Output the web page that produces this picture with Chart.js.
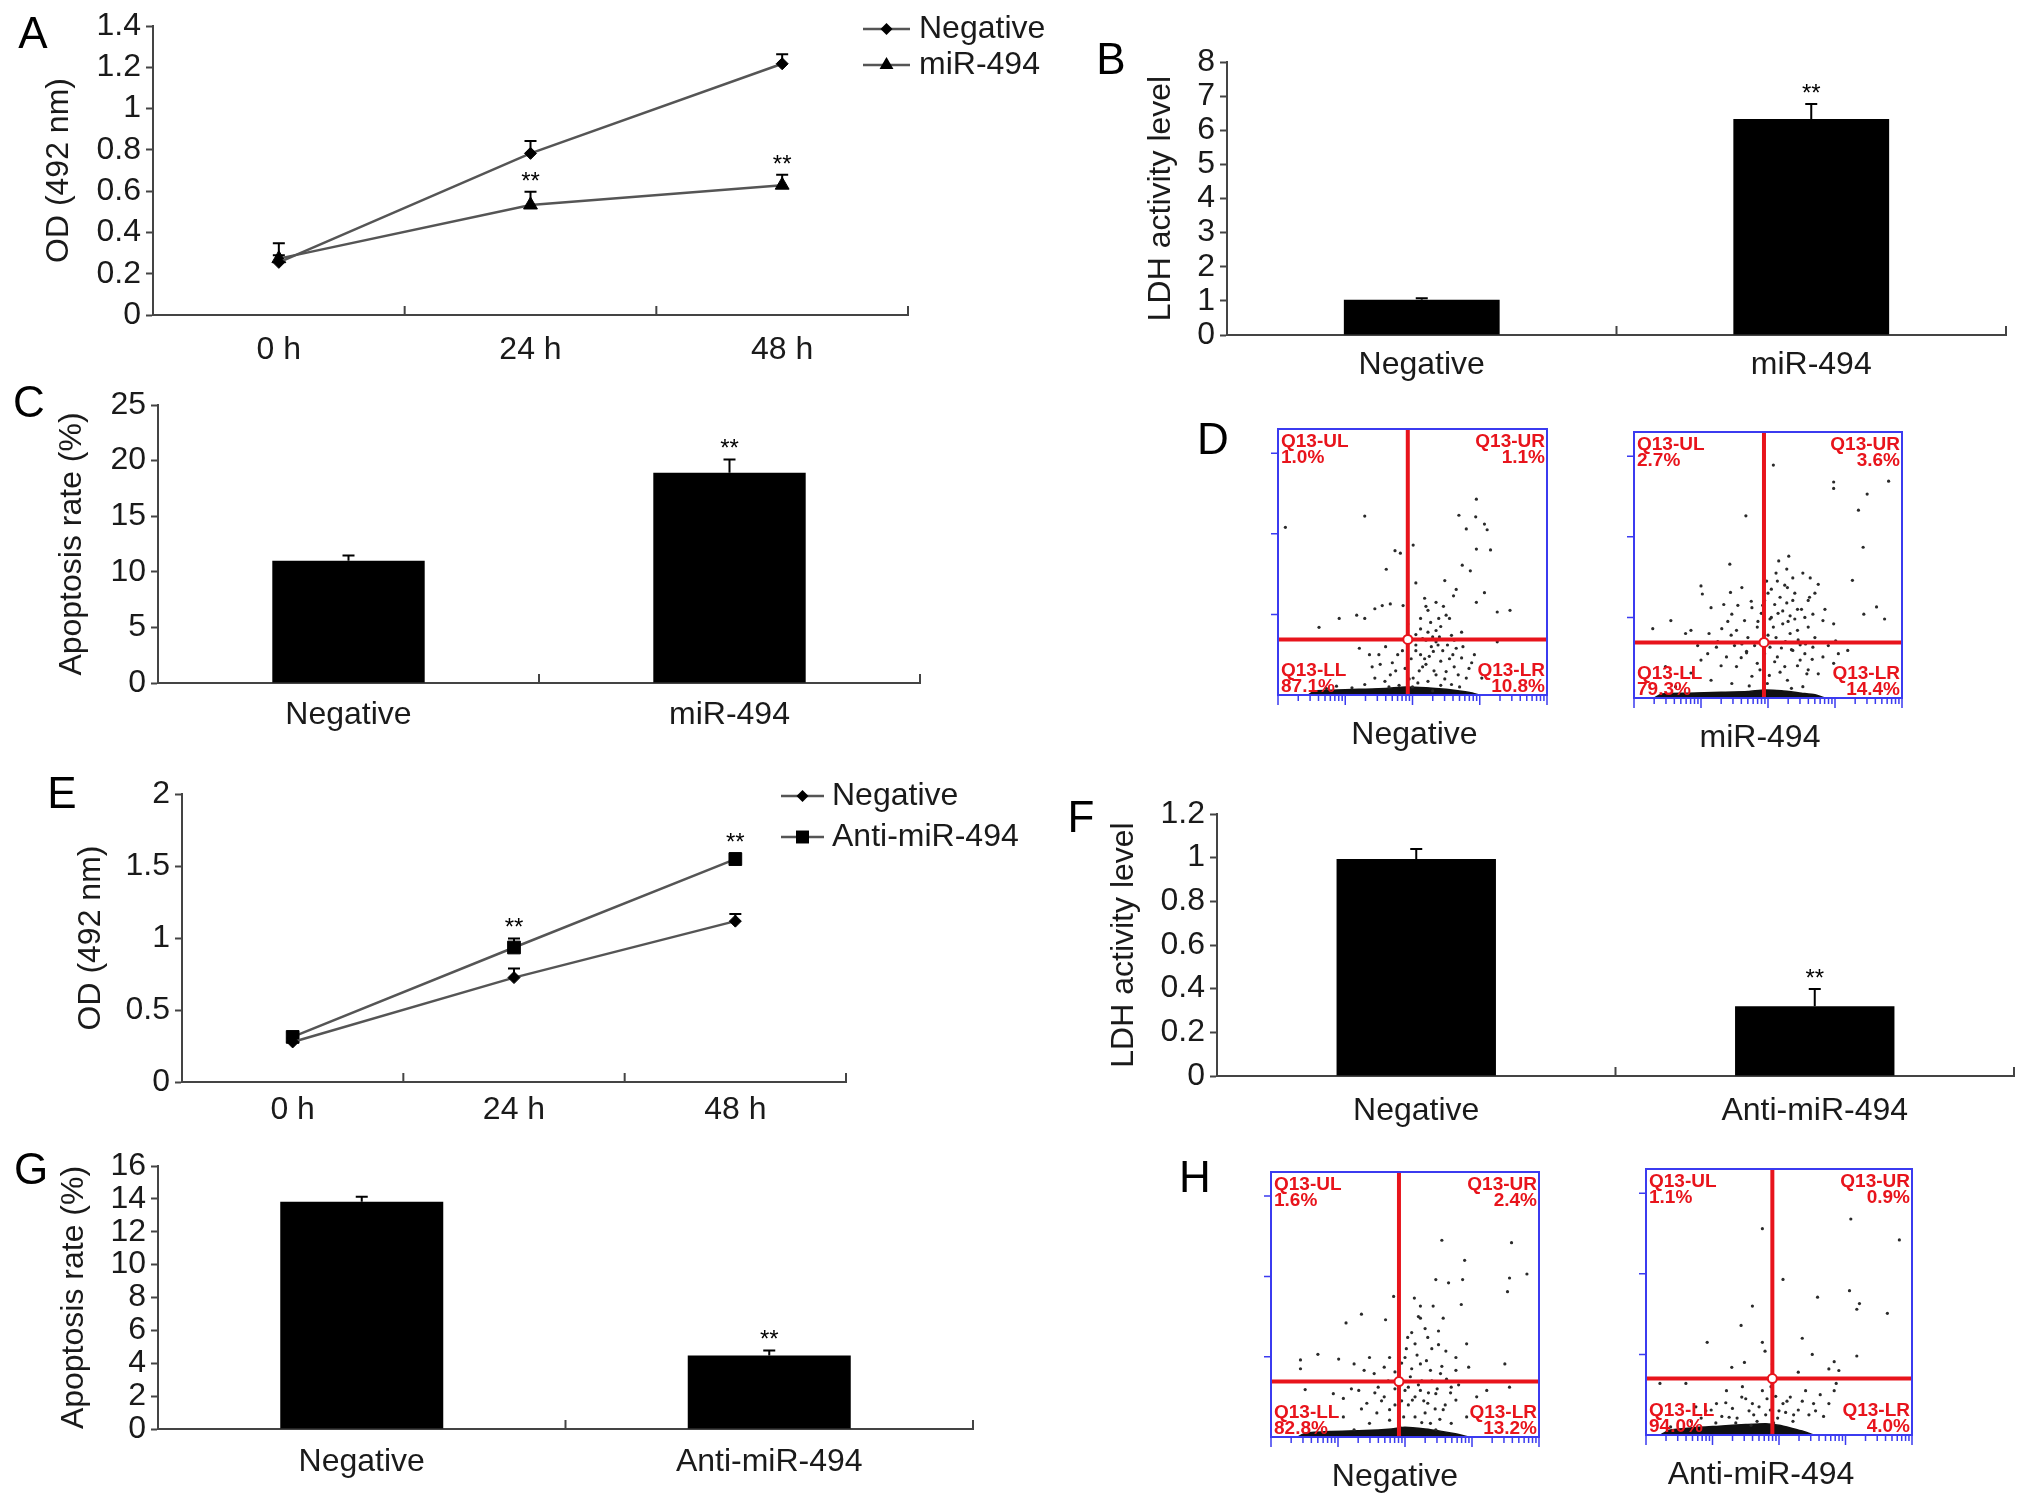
<!DOCTYPE html>
<html>
<head>
<meta charset="utf-8">
<script src="https://cdn.jsdelivr.net/npm/chart.js@4.4.1/dist/chart.umd.min.js"></script>
<style>
  html, body { margin: 0; padding: 0; background: #fff; overflow: hidden; }
  #fig { position: relative; width: 2032px; height: 1507px; background: #fff; }
  #fig canvas { position: absolute; }
</style>
</head>
<body>
<div id="fig"></div>
<script>
// ---- data ----
const timeLabels = ['0 h', '24 h', '48 h'];

// A: proliferation, miR-494 overexpression
const negativeA = [0.255, 0.783, 1.217];
const negativeAErr = [0.034, 0.06, 0.046];
const mirA = [0.273, 0.533, 0.629];
const mirAErr = [0.075, 0.064, 0.05];
const mirAStars = ['', '**', '**'];

// B: LDH, miR-494
const groupsMir = ['Negative', 'miR-494'];
const ldhB = [1.03, 6.33];
const ldhBErr = [0.05, 0.44];
const ldhBStars = ['', '**'];

// C: apoptosis, miR-494
const apopC = [11.0, 18.9];
const apopCErr = [0.47, 1.2];
const apopCStars = ['', '**'];

// E: proliferation, anti-miR-494
const negativeE = [0.278, 0.725, 1.117];
const negativeEErr = [0.025, 0.063, 0.049];
const antiE = [0.313, 0.934, 1.548];
const antiEErr = [0.03, 0.063, 0.04];
const antiEStars = ['', '**', '**'];

// F: LDH, anti-miR-494
const groupsAnti = ['Negative', 'Anti-miR-494'];
const ldhF = [0.994, 0.32];
const ldhFErr = [0.046, 0.078];
const ldhFStars = ['', '**'];

// G: apoptosis, anti-miR-494
const apopG = [13.82, 4.47];
const apopGErr = [0.31, 0.31];
const apopGStars = ['', '**'];

// D / H: flow cytometry dot plots, in log decades (x 0-4, y 0-3.3)
const quadNames = ['Q13-UL', 'Q13-UR', 'Q13-LL', 'Q13-LR'];
const quadD1 = ['1.0%', '1.1%', '87.1%', '10.8%'];
const quadD2 = ['2.7%', '3.6%', '79.3%', '14.4%'];
const quadH1 = ['1.6%', '2.4%', '82.8%', '13.2%'];
const quadH2 = ['1.1%', '0.9%', '94.0%', '4.0%'];
const gateD1 = [1.93, 0.69];
const gateD2 = [1.94, 0.69];
const gateH1 = [1.91, 0.69];
const gateH2 = [1.90, 0.70];

const dotsD1 = [
  [2.95,2.43],[2.69,2.23],[1.29,2.22],[0.11,2.08],[2.80,2.06],[3.11,2.05],[2.94,2.21],[3.07,2.12],
  [2.01,1.86],[2.95,1.81],[3.16,1.80],[1.74,1.79],[1.82,1.76],[2.74,1.61],[2.86,1.54],[1.61,1.56],
  [2.05,1.39],[2.48,1.42],[2.65,1.31],[2.61,1.23],[3.07,1.27],[2.95,1.15],[2.35,1.15],[2.46,1.10],
  [2.23,1.05],[2.50,0.99],[2.27,0.90],[2.39,0.95],[2.12,0.82],[2.23,0.78],[2.35,0.80],[2.73,0.78],
  [1.67,1.13],[1.55,1.11],[1.44,1.07],[1.29,0.95],[1.17,0.99],[0.91,0.95],[0.61,0.84],[3.26,1.03],
  [3.45,1.05],[1.93,0.88],[1.86,1.11],
  [1.21,0.58],[1.36,0.50],[1.52,0.38],[1.67,0.25],[1.78,0.50],[2.05,0.62],[2.12,0.50],[2.20,0.38],
  [2.31,0.54],[2.42,0.42],[2.50,0.29],[2.65,0.58],[2.73,0.46],[2.84,0.33],[2.92,0.50],[1.89,0.33],
  [2.01,0.21],[2.23,0.17],[1.59,0.17],[1.44,0.21],[1.29,0.13],[1.10,0.09],[2.58,0.13],[2.35,0.25],
  [2.80,0.21],[3.03,0.21],[0.87,0.11],[0.72,0.08],[3.26,0.66],[2.35,0.66],[2.58,0.74],
  [2.15,0.70],[2.28,0.60],[2.40,0.72],[2.18,0.45],[2.45,0.55],[2.55,0.45],[2.62,0.35],[2.10,0.30],
  [1.98,0.45],[1.70,0.40],[1.60,0.60],[2.00,0.10],[2.30,0.05],[1.80,0.12],
  [2.05,0.55],[2.15,0.35],[2.25,0.48],[2.32,0.30],[2.38,0.62],[2.48,0.20],[2.52,0.62],[2.60,0.50],
  [2.68,0.25],[2.08,0.15],[2.20,0.68],[2.42,0.12],[1.85,0.55],[1.75,0.30],[1.50,0.50],[1.40,0.35],
  [2.12,0.95],[2.20,1.10],[2.30,0.72],[2.42,0.85],[2.55,0.95],[2.18,1.20],[2.05,0.75],[2.62,0.68],
  [2.75,0.60],[2.88,0.40],[1.95,0.20],[1.65,0.10],[2.70,0.10]
];
const dotsD2 = [
  [2.08,2.89],[2.98,2.68],[3.80,2.69],[2.98,2.60],[3.48,2.53],[3.35,2.33],[1.67,2.26],[3.42,1.87],
  [2.31,1.76],[1.43,1.66],[2.16,1.70],[2.52,1.55],[2.63,1.49],[3.26,1.46],[1.00,1.39],[1.61,1.37],
  [2.05,1.35],[2.29,1.37],[2.75,1.41],[3.62,1.13],[3.74,0.98],[3.43,1.04],[1.02,1.29],[1.44,1.31],
  [1.34,1.16],[1.15,1.12],[1.46,1.04],[1.76,1.12],[1.95,1.21],[2.10,1.16],[2.22,1.08],[2.33,1.02],
  [2.44,1.10],[2.60,1.21],[2.67,1.04],[2.82,0.96],[2.98,0.92],[2.22,0.92],[2.03,0.98],[1.84,0.88],
  [1.65,0.96],[1.53,0.84],[1.31,0.86],[1.12,0.80],[0.85,0.84],[0.77,0.80],[0.28,0.86],[0.55,0.96],
  [2.44,0.84],[2.37,1.21],[2.14,1.45],[2.37,1.49],
  [1.23,0.63],[1.38,0.51],[1.53,0.39],[1.68,0.56],[1.84,0.43],[2.03,0.63],[2.14,0.51],[2.25,0.39],
  [2.37,0.59],[2.48,0.47],[2.60,0.35],[2.67,0.63],[2.82,0.51],[2.98,0.43],[1.00,0.47],[0.85,0.31],
  [1.15,0.22],[1.46,0.18],[1.76,0.27],[1.99,0.18],[2.29,0.22],[2.52,0.14],[0.62,0.14],[0.47,0.39],
  [1.61,0.67],[2.56,0.67],[3.19,0.59],[3.01,0.71],
  [2.05,1.00],[2.12,0.75],[2.30,0.95],[2.40,1.30],[2.18,1.25],[2.50,1.10],[2.00,0.78],[1.90,1.05],
  [2.25,1.40],[2.45,0.72],[1.70,0.75],[1.40,0.95],[2.60,0.88],[2.70,0.75],[2.35,0.60],[2.10,0.45],
  [1.95,0.55],[1.80,0.65],[2.55,0.55],[1.60,0.50],[1.30,0.40],[2.90,0.65],[3.05,0.55],
  [1.85,0.95],[1.92,1.15],[2.00,1.30],[2.08,0.88],[2.15,1.05],[2.20,0.62],[2.28,1.18],[2.33,0.80],
  [2.40,0.98],[2.48,0.66],[2.55,1.00],[2.62,1.25],[1.75,1.20],[1.68,0.58],[1.88,0.35],[2.02,0.28],
  [2.18,0.32],[2.26,0.70],[2.44,0.40],[2.58,0.30],[2.66,0.48],[1.50,0.65],[1.45,0.78],[1.55,1.15],
  [2.12,1.55],[2.28,1.60],[1.98,1.45],[2.70,1.30],[2.85,1.10],[1.25,0.70],[1.10,0.55],[0.95,0.65],
  [2.35,0.12],[1.72,0.15],[2.75,0.30]
];
const dotsH1 = [
  [2.55,2.45],[3.59,2.42],[2.89,2.20],[3.56,1.98],[3.82,2.03],[3.53,1.81],[2.46,1.96],[2.65,1.92],
  [2.86,1.96],[1.83,1.75],[2.14,1.73],[2.23,1.63],[2.42,1.63],[1.12,1.42],[1.35,1.53],[1.71,1.46],
  [2.23,1.48],[2.57,1.48],[2.84,1.65],[2.04,1.24],[2.15,1.16],[2.34,1.24],[2.50,1.32],[2.61,1.07],
  [2.76,0.99],[2.92,1.16],[3.49,0.91],[0.70,1.03],[0.44,0.96],[0.44,0.85],[1.01,0.97],[1.24,0.91],
  [1.47,0.99],[1.69,0.87],[1.77,0.99],[2.00,0.99],[2.23,0.91],[2.38,0.83],[2.53,0.79],[2.08,0.75],
  [1.85,0.81],[1.54,0.79],[1.39,0.83],[2.76,0.83],[2.95,0.87],
  [0.51,0.59],[0.93,0.54],[1.08,0.48],[1.31,0.58],[1.43,0.42],[1.58,0.30],[1.69,0.50],[1.77,0.34],
  [2.00,0.58],[2.11,0.46],[2.23,0.58],[2.34,0.42],[2.46,0.54],[2.57,0.34],[2.69,0.62],[2.76,0.46],
  [2.92,0.25],[3.07,0.50],[3.22,0.58],[3.56,0.62],[2.15,0.25],[2.38,0.17],[1.92,0.13],[1.47,0.17],
  [1.24,0.09],[2.46,0.09],[1.77,0.21],[2.69,0.17],[1.08,0.25],
  [2.05,0.40],[2.20,0.65],[2.30,0.30],[1.95,0.45],[2.40,0.70],[1.60,0.62],[2.60,0.40],[1.85,0.60],
  [1.95,0.92],[2.02,1.10],[2.10,0.85],[2.18,1.02],[2.25,0.70],[2.32,0.95],[2.40,1.10],[2.48,0.60],
  [2.55,0.88],[2.62,0.72],[2.05,0.62],[2.15,0.50],[2.28,0.45],[2.35,0.55],[2.45,0.35],[1.85,0.40],
  [1.75,0.70],[1.65,0.45],[1.55,0.55],[2.10,1.30],[2.30,1.35],[2.20,1.50],[2.50,1.15],[2.68,0.55],
  [2.80,0.65],[1.98,0.25],[2.25,0.18],[2.52,0.22],[1.35,0.35],[1.20,0.60]
];
const dotsH2 = [
  [1.75,2.56],[3.08,2.68],[3.81,2.42],[2.06,1.93],[3.06,1.79],[3.21,1.63],[2.58,1.71],[1.60,1.60],
  [3.17,1.56],[3.63,1.51],[1.43,1.36],[0.92,1.15],[1.75,1.15],[1.79,1.04],[2.35,1.20],[2.50,1.00],
  [2.83,0.91],[3.17,0.98],[1.48,0.90],[1.29,0.84],[2.75,0.82],[2.90,0.80],[1.90,0.88],[2.29,0.78],
  [0.21,0.64],[0.60,0.64],[1.21,0.55],[1.44,0.47],[1.60,0.39],[1.75,0.55],[1.87,0.31],[2.06,0.39],
  [2.17,0.47],[2.29,0.31],[2.40,0.55],[2.52,0.39],[2.67,0.23],[2.83,0.55],[2.75,0.39],[2.86,0.64],
  [0.98,0.31],[1.14,0.23],[1.37,0.21],[1.67,0.17],[1.98,0.21],[2.21,0.17],[0.83,0.21],[0.68,0.17],
  [0.37,0.10],[1.06,0.39],[1.55,0.30],[1.80,0.25],[2.10,0.28],[1.30,0.33],[2.45,0.25],[1.95,0.48],
  [1.20,0.40],[1.35,0.15],[1.50,0.45],[1.62,0.25],[1.70,0.35],[1.82,0.45],[1.92,0.15],[2.00,0.30],
  [2.12,0.42],[2.22,0.25],[1.05,0.15],[0.90,0.30],[1.45,0.60],[1.58,0.12],[1.88,0.60],[2.35,0.42],
  [2.55,0.30],[2.62,0.50],[1.25,0.22],[0.75,0.35]
];
// dense event band along the floor of each plot
const floorD1 = [[0.45,0],[0.55,0.05],[0.80,0.06],[1.20,0.07],[1.60,0.08],[1.90,0.10],[2.20,0.09],[2.50,0.07],[2.70,0.05],[2.85,0.03],[3.00,0]];
const floorD2 = [[0.30,0],[0.42,0.05],[0.80,0.06],[1.30,0.07],[1.70,0.08],[1.95,0.10],[2.20,0.09],[2.50,0.06],[2.70,0.04],[2.85,0]];
const floorH1 = [[0.40,0],[0.52,0.05],[0.90,0.07],[1.40,0.08],[1.80,0.10],[2.00,0.12],[2.30,0.10],[2.55,0.07],[2.75,0.04],[2.95,0]];
const floorH2 = [[0.22,0],[0.35,0.06],[0.70,0.09],[1.10,0.11],[1.50,0.13],[1.80,0.14],[2.00,0.12],[2.20,0.08],[2.38,0.04],[2.52,0]];

// ---- styling ----
const FONT = '"Liberation Sans", Arial, Helvetica, sans-serif';
const TXT = 32;
const INK = '#1a1a1a';
const AXIS = '#444';
const LINE = '#555';
const RED = '#e8141c';
const BLUE = '#3b3bf0';

Chart.defaults.font.family = FONT;
Chart.defaults.font.size = TXT;
Chart.defaults.color = INK;
Chart.defaults.animation = false;
Chart.defaults.plugins.legend.display = false;
Chart.defaults.plugins.tooltip.enabled = false;

const fig = document.getElementById('fig');

function addCanvas(box) {
  const c = document.createElement('canvas');
  c.width = box.w; c.height = box.h;
  c.style.left = box.x + 'px'; c.style.top = box.y + 'px';
  c.style.width = box.w + 'px'; c.style.height = box.h + 'px';
  fig.appendChild(c);
  return c;
}

function drawMark(ctx, style, x, y, r) {
  ctx.beginPath();
  if (style === 'rectRot') {
    ctx.moveTo(x, y - r); ctx.lineTo(x + r, y); ctx.lineTo(x, y + r); ctx.lineTo(x - r, y);
  } else if (style === 'triangle') {
    ctx.moveTo(x, y - r); ctx.lineTo(x + r * 0.87, y + r * 0.5); ctx.lineTo(x - r * 0.87, y + r * 0.5);
  } else {
    const s = r * 0.72;
    ctx.rect(x - s, y - s, 2 * s, 2 * s);
  }
  ctx.closePath();
  ctx.fill();
}

// panel letter, error bars, stars, inward ticks on the category axis, legend
const panelPlugin = {
  id: 'panelExtras',
  afterDatasetsDraw(chart) {
    const ctx = chart.ctx;
    const ys = chart.scales.y;
    chart.data.datasets.forEach((ds, di) => {
      if (!ds.errors) return;
      const meta = chart.getDatasetMeta(di);
      meta.data.forEach((el, i) => {
        const v = ds.data[i];
        const y0 = ys.getPixelForValue(v);
        const y1 = ys.getPixelForValue(v + ds.errors[i]);
        ctx.save();
        ctx.strokeStyle = '#000';
        ctx.lineWidth = 2;
        ctx.beginPath();
        ctx.moveTo(el.x, y0); ctx.lineTo(el.x, y1);
        ctx.moveTo(el.x - 6, y1); ctx.lineTo(el.x + 6, y1);
        ctx.stroke();
        if (ds.stars && ds.stars[i]) {
          ctx.fillStyle = '#000';
          ctx.font = '24px ' + FONT;
          ctx.textAlign = 'center';
          ctx.textBaseline = 'alphabetic';
          ctx.fillText(ds.stars[i], el.x, y1 - 17 + 0.58 * 24);
        }
        ctx.restore();
      });
    });
  },
  afterDraw(chart, args, opts) {
    const ctx = chart.ctx;
    const xs = chart.scales.x;
    const area = chart.chartArea;
    ctx.save();
    // small upward ticks between categories
    ctx.strokeStyle = AXIS;
    ctx.lineWidth = 2;
    for (let i = 0; i < chart.data.labels.length; i++) {
      const px = xs.getPixelForValue(i + 0.5);
      ctx.beginPath(); ctx.moveTo(px, area.bottom); ctx.lineTo(px, area.bottom - 9); ctx.stroke();
    }
    // panel letter
    ctx.fillStyle = '#000';
    ctx.font = '44px ' + FONT;
    ctx.textAlign = 'center';
    ctx.textBaseline = 'middle';
    ctx.fillText(opts.letter, opts.letterX, opts.letterY);
    // legend
    if (opts.legend) {
      const lg = opts.legend;
      chart.data.datasets.forEach((ds, i) => {
        const y = lg.y[i];
        ctx.strokeStyle = LINE;
        ctx.lineWidth = 2.5;
        ctx.beginPath(); ctx.moveTo(lg.x0, y); ctx.lineTo(lg.x1, y); ctx.stroke();
        ctx.fillStyle = '#000';
        drawMark(ctx, ds.pointStyle, (lg.x0 + lg.x1) / 2, y, ds.pointRadius);
        ctx.fillStyle = INK;
        ctx.font = TXT + 'px ' + FONT;
        ctx.textAlign = 'left';
        ctx.textBaseline = 'middle';
        ctx.fillText(ds.label, lg.tx, y);
      });
    }
    ctx.restore();
  }
};

function axisScales(p) {
  const lh = TXT * 1.2;
  return {
    x: {
      type: 'category',
      offset: true,
      grid: { display: false, drawTicks: false },
      border: { color: AXIS, width: 2 },
      ticks: { color: INK, padding: p.labelY - p.area.b - lh / 2, maxRotation: 0, autoSkip: false },
      afterFit: s => { s.height = p.box.y + p.box.h - p.area.b; }
    },
    y: {
      min: p.yMin, max: p.yMax,
      ticks: {
        stepSize: p.yStep, color: INK, padding: 5, autoSkip: false,
        callback: v => String(+v.toFixed(2))
      },
      grid: { drawOnChartArea: false, drawTicks: true, tickLength: 7, tickColor: AXIS, tickWidth: 2 },
      border: { color: AXIS, width: 2 },
      title: { display: true, text: p.yTitle, color: INK, padding: { top: p.titleX - p.box.x - lh / 2, bottom: 0 } },
      afterFit: s => { s.width = p.area.l - p.box.x; }
    }
  };
}

function panelOptions(p) {
  return {
    responsive: false,
    devicePixelRatio: 1,
    layout: { padding: { left: 0, top: p.area.t - p.box.y, right: p.box.x + p.box.w - p.area.r, bottom: 0 } },
    scales: axisScales(p),
    plugins: {
      panelExtras: {
        letter: p.letter[0], letterX: p.letter[1] - p.box.x, letterY: p.letter[2] - p.box.y,
        legend: p.legend ? {
          x0: p.legend.x0 - p.box.x, x1: p.legend.x1 - p.box.x, tx: p.legend.tx - p.box.x,
          y: p.legend.y.map(v => v - p.box.y)
        } : null
      }
    }
  };
}

function barPanel(p, labels, values, errors, stars) {
  new Chart(addCanvas(p.box), {
    type: 'bar',
    data: {
      labels,
      datasets: [{
        data: values, errors, stars,
        backgroundColor: '#000', borderWidth: 0,
        barPercentage: 0.4, categoryPercentage: 1
      }]
    },
    options: panelOptions(p),
    plugins: [panelPlugin]
  });
}

function linePanel(p, series) {
  new Chart(addCanvas(p.box), {
    type: 'line',
    data: {
      labels: timeLabels,
      datasets: series.map(s => ({
        label: s.label, data: s.data, errors: s.errors, stars: s.stars,
        borderColor: LINE, borderWidth: 2.5, tension: 0, fill: false,
        pointStyle: s.style, pointRadius: s.radius,
        pointBackgroundColor: '#000', pointBorderColor: '#000', pointBorderWidth: 1
      }))
    },
    options: panelOptions(p),
    plugins: [panelPlugin]
  });
}

// flow cytometry dot plot
const dotPlugin = {
  id: 'dotExtras',
  afterDraw(chart, args, opts) {
    const ctx = chart.ctx;
    const a = chart.chartArea;
    const xs = chart.scales.x, ys = chart.scales.y;
    ctx.save();
    ctx.strokeStyle = BLUE;
    ctx.lineWidth = 2;
    ctx.strokeRect(a.left, a.top, a.right - a.left, a.bottom - a.top);
    ctx.lineWidth = 1.5;
    ctx.beginPath();
    for (let d = 0; d < 4; d++) {
      for (let m = 1; m <= 9; m++) {
        const px = xs.getPixelForValue(d + Math.log10(m));
        ctx.moveTo(px, a.bottom); ctx.lineTo(px, a.bottom + (m === 1 ? 10 : 6));
      }
    }
    ctx.moveTo(a.right, a.bottom); ctx.lineTo(a.right, a.bottom + 10);
    for (let d = 1; d <= 3; d++) {
      const py = ys.getPixelForValue(d);
      ctx.moveTo(a.left, py); ctx.lineTo(a.left - 7, py);
    }
    ctx.stroke();
    // quadrant labels
    ctx.fillStyle = RED;
    ctx.font = 'bold 19px ' + FONT;
    ctx.textBaseline = 'middle';
    const q = opts.quad;
    ctx.textAlign = 'left';
    ctx.fillText(quadNames[0], a.left + 3, a.top + 13);
    ctx.fillText(q[0], a.left + 3, a.top + 29);
    ctx.fillText(quadNames[2], a.left + 3, a.bottom - 24);
    ctx.fillText(q[2], a.left + 3, a.bottom - 8);
    ctx.textAlign = 'right';
    ctx.fillText(quadNames[1], a.right - 2, a.top + 13);
    ctx.fillText(q[1], a.right - 2, a.top + 29);
    ctx.fillText(quadNames[3], a.right - 2, a.bottom - 24);
    ctx.fillText(q[3], a.right - 2, a.bottom - 8);
    // sample name under the plot
    ctx.fillStyle = INK;
    ctx.font = TXT + 'px ' + FONT;
    ctx.textAlign = 'center';
    ctx.fillText(opts.name, (a.left + a.right) / 2 + opts.nameShift, a.bottom + 40);
    if (opts.letter) {
      ctx.fillStyle = '#000';
      ctx.font = '44px ' + FONT;
      ctx.fillText(opts.letter[0], opts.letter[1], opts.letter[2]);
    }
    ctx.restore();
  }
};

function dotPanel(area, name, nameShift, dots, floor, gate, quad, letter) {
  const box = { x: area.l - 100, y: area.t - 40, w: area.r - area.l + 140, h: area.b - area.t + 100 };
  const pts = arr => arr.map(([x, y]) => ({ x, y }));
  new Chart(addCanvas(box), {
    type: 'scatter',
    data: {
      datasets: [
        { data: [{ x: gate[0], y: gate[1] }], pointRadius: 4.5, pointBackgroundColor: '#fff',
          pointBorderColor: RED, pointBorderWidth: 2 },
        { type: 'line', data: [{ x: 0, y: gate[1] }, { x: 4, y: gate[1] }], borderColor: RED,
          borderWidth: 4, pointRadius: 0 },
        { type: 'line', data: [{ x: gate[0], y: 0 }, { x: gate[0], y: 3.3 }], borderColor: RED,
          borderWidth: 4, pointRadius: 0 },
        { data: pts(dots), pointRadius: 1.6, pointBackgroundColor: '#2a2a2a', pointBorderWidth: 0 },
        { type: 'line', data: pts(floor), fill: 'origin', backgroundColor: '#111', borderColor: '#111',
          borderWidth: 1.5, pointRadius: 0, tension: 0.2 }
      ]
    },
    options: {
      responsive: false,
      devicePixelRatio: 1,
      layout: { padding: { left: 100, top: 40, right: 40, bottom: 60 } },
      scales: {
        x: { type: 'linear', min: 0, max: 4, display: false },
        y: { type: 'linear', min: 0, max: 3.3, display: false }
      },
      plugins: {
        dotExtras: {
          quad, name, nameShift,
          letter: letter ? [letter[0], letter[1] - box.x, letter[2] - box.y] : null
        }
      }
    },
    plugins: [dotPlugin]
  });
}

// ---- panels ----
linePanel({
  box: { x: 0, y: 0, w: 1070, h: 385 },
  area: { l: 153, t: 26, r: 908, b: 315 },
  yMin: 0, yMax: 1.4, yStep: 0.2, yTitle: 'OD (492 nm)', titleX: 59, labelY: 350,
  letter: ['A', 33, 36],
  legend: { x0: 863, x1: 910, tx: 919, y: [29, 65] }
}, [
  { label: 'Negative', data: negativeA, errors: negativeAErr, style: 'rectRot', radius: 6 },
  { label: 'miR-494', data: mirA, errors: mirAErr, stars: mirAStars, style: 'triangle', radius: 8 }
]);

barPanel({
  box: { x: 1060, y: 0, w: 972, h: 390 },
  area: { l: 1227, t: 62, r: 2006, b: 335 },
  yMin: 0, yMax: 8, yStep: 1, yTitle: 'LDH activity level', titleX: 1161, labelY: 365,
  letter: ['B', 1111, 62]
}, groupsMir, ldhB, ldhBErr, ldhBStars);

barPanel({
  box: { x: 0, y: 380, w: 1060, h: 380 },
  area: { l: 158, t: 405, r: 920, b: 683 },
  yMin: 0, yMax: 25, yStep: 5, yTitle: 'Apoptosis rate (%)', titleX: 72, labelY: 715,
  letter: ['C', 29, 405]
}, groupsMir, apopC, apopCErr, apopCStars);

dotPanel({ l: 1278, t: 429, r: 1547, b: 695 }, 'Negative', 2, dotsD1, floorD1, gateD1, quadD1, ['D', 1213, 442]);
dotPanel({ l: 1634, t: 432, r: 1902, b: 698 }, 'miR-494', -8, dotsD2, floorD2, gateD2, quadD2, null);

linePanel({
  box: { x: 0, y: 760, w: 1070, h: 385 },
  area: { l: 182, t: 794, r: 846, b: 1082 },
  yMin: 0, yMax: 2, yStep: 0.5, yTitle: 'OD (492 nm)', titleX: 91, labelY: 1110,
  letter: ['E', 62, 796],
  legend: { x0: 781, x1: 824, tx: 832, y: [796, 837] }
}, [
  { label: 'Negative', data: negativeE, errors: negativeEErr, style: 'rectRot', radius: 6 },
  { label: 'Anti-miR-494', data: antiE, errors: antiEErr, stars: antiEStars, style: 'rect', radius: 9 }
]);

barPanel({
  box: { x: 1060, y: 780, w: 972, h: 370 },
  area: { l: 1217, t: 814, r: 2014, b: 1076 },
  yMin: 0, yMax: 1.2, yStep: 0.2, yTitle: 'LDH activity level', titleX: 1124, labelY: 1111,
  letter: ['F', 1081, 820]
}, groupsAnti, ldhF, ldhFErr, ldhFStars);

barPanel({
  box: { x: 0, y: 1135, w: 1060, h: 372 },
  area: { l: 158, t: 1166, r: 973, b: 1429 },
  yMin: 0, yMax: 16, yStep: 2, yTitle: 'Apoptosis rate (%)', titleX: 74, labelY: 1462,
  letter: ['G', 31, 1172]
}, groupsAnti, apopG, apopGErr, apopGStars);

dotPanel({ l: 1271, t: 1172, r: 1539, b: 1437 }, 'Negative', -10, dotsH1, floorH1, gateH1, quadH1, ['H', 1195, 1180]);
dotPanel({ l: 1646, t: 1169, r: 1912, b: 1435 }, 'Anti-miR-494', -18, dotsH2, floorH2, gateH2, quadH2, null);
</script>
</body>
</html>
